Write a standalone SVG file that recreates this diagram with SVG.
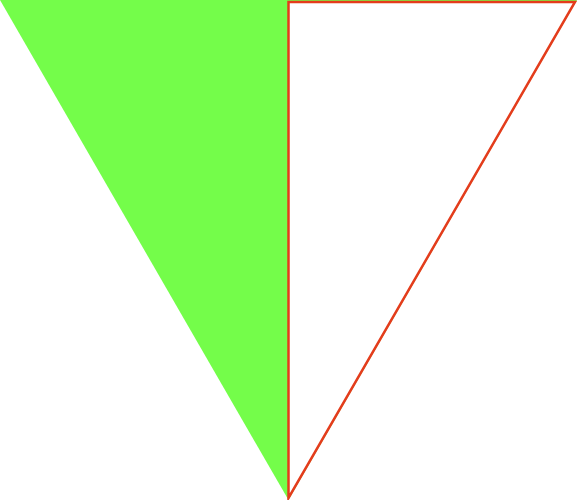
<svg xmlns="http://www.w3.org/2000/svg" width="577" height="500" viewBox="0 0 577 500">
<style>.g{fill:#74fd4a}.r{fill:#ffffff;stroke:#e43c1c;stroke-width:2.5;stroke-linejoin:miter}</style>
<rect width="577" height="500" fill="#ffffff"/>
<g id="green"><polygon class="g" points="0,0 577,0 288.5,500"/></g>
<g id="outline"><polygon class="r" points="288.5,2 575,2 288.5,498"/></g>
</svg>
